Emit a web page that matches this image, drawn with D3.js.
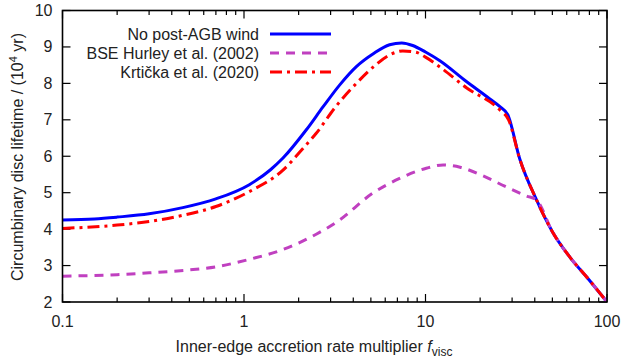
<!DOCTYPE html>
<html><head><meta charset="utf-8">
<script src="https://cdn.jsdelivr.net/npm/d3@7"></script>
<style>body{margin:0;background:#fff}svg{display:block}text{font-family:"Liberation Sans",Arial,sans-serif;fill:#222}</style>
</head><body><svg id="c" width="625" height="361"></svg>
<script>
const xTicks = [0.1, 1, 10, 100];
const xTickLabels = ["0.1", "1", "10", "100"];
const yTicks = [2, 3, 4, 5, 6, 7, 8, 9, 10];
const seriesNames = ["No post-AGB wind", "BSE Hurley et al. (2002)", "Krtička et al. (2020)"];

const blueX = [0.1, 0.15, 0.2, 0.3, 0.46, 0.7, 1.07, 1.4, 1.64, 2.2, 2.73, 3.37, 4.16, 5.18, 6.34, 7.4, 8.5, 10, 12, 16.8, 22, 25.7, 28.4, 33, 40.9, 50, 62.7, 78.1, 100];
const blueY = [4.25, 4.28, 4.33, 4.42, 4.59, 4.83, 5.22, 5.63, 5.95, 6.72, 7.36, 7.96, 8.46, 8.82, 9.06, 9.11, 9.04, 8.86, 8.62, 8.05, 7.62, 7.36, 7.14, 5.94, 4.80, 3.93, 3.22, 2.66, 2.0];

const purpleX = [0.1, 0.2, 0.3, 0.5, 0.71, 1.07, 1.64, 2.5, 3.3, 5.1, 7.2, 10.1, 12.5, 15.5, 20.8, 27.3, 36, 40.9, 50, 62.7, 78.1, 100];
const purpleY = [2.71, 2.75, 2.80, 2.88, 2.97, 3.17, 3.44, 3.86, 4.22, 4.98, 5.39, 5.67, 5.76, 5.70, 5.46, 5.18, 4.91, 4.80, 3.93, 3.22, 2.66, 2.0];

const redX = [0.1, 0.2, 0.3, 0.46, 0.7, 1.07, 1.64, 2.1, 2.5, 3.2, 4.16, 5.18, 6.34, 7.5, 8.8, 10, 12, 16.8, 25.7, 28.7, 33, 40.9, 50, 62.7, 78.1, 100];
const redY = [4.02, 4.11, 4.21, 4.38, 4.62, 5.03, 5.62, 6.20, 6.63, 7.36, 8.00, 8.46, 8.78, 8.89, 8.86, 8.72, 8.45, 7.88, 7.27, 7.00, 5.94, 4.80, 3.93, 3.22, 2.66, 2.0];

const L = 62.5, R = 607, T = 10.5, B = 302;
const svg = d3.select("#c");
const x = d3.scaleLog().domain([0.1, 100]).range([L, R]);
const y = d3.scaleLinear().domain([2, 10]).range([B, T]);

svg.append("clipPath").attr("id","clip").append("rect").attr("x",L).attr("y",T).attr("width",R-L).attr("height",B-T);

// minor x ticks
const minor = [];
for (let d = 0.1; d < 100; d *= 10) for (let k = 2; k <= 9; k++) minor.push(d * k);
const g = svg.append("g").attr("stroke","#000");
minor.forEach(v => {
  g.append("line").attr("x1",x(v)).attr("x2",x(v)).attr("y1",B).attr("y2",B-4.5).attr("stroke-width",1.2);
  g.append("line").attr("x1",x(v)).attr("x2",x(v)).attr("y1",T).attr("y2",T+4.5).attr("stroke-width",1.2);
});
xTicks.forEach(v => {
  g.append("line").attr("x1",x(v)).attr("x2",x(v)).attr("y1",B).attr("y2",B-8).attr("stroke-width",1.2);
  g.append("line").attr("x1",x(v)).attr("x2",x(v)).attr("y1",T).attr("y2",T+8).attr("stroke-width",1.2);
});
yTicks.forEach(v => {
  g.append("line").attr("x1",L).attr("x2",L+8).attr("y1",y(v)).attr("y2",y(v)).attr("stroke-width",1.2);
  g.append("line").attr("x1",R).attr("x2",R-8).attr("y1",y(v)).attr("y2",y(v)).attr("stroke-width",1.2);
});

xTicks.forEach((v,i) => {
  svg.append("text").attr("x",x(v)).attr("y",327).attr("text-anchor","middle").attr("font-size",16).text(xTickLabels[i]);
});
yTicks.forEach(v => {
  svg.append("text").attr("x",52.5).attr("y",y(v)+5.5).attr("text-anchor","end").attr("font-size",16).text(v);
});

const line = d3.line().x(d => x(d[0])).y(d => y(d[1])).curve(d3.curveMonotoneX);
const plot = svg.append("g").attr("clip-path","url(#clip)").attr("fill","none");
const styles = [
  {color:"#0000ff", dash:null},
  {color:"#c040c0", dash:"9,7"},
  {color:"#ff0000", dash:"12,5,3,5"}
];
const data = [d3.zip(blueX, blueY), d3.zip(purpleX, purpleY), d3.zip(redX, redY)];
[0,1,2].forEach(i => {
  plot.append("path").attr("d", line(data[i])).attr("stroke", styles[i].color).attr("stroke-width",3)
    .attr("stroke-dasharray", styles[i].dash);
});

// frame
svg.append("rect").attr("x",L).attr("y",T).attr("width",R-L).attr("height",B-T).attr("fill","none").attr("stroke","#000").attr("stroke-width",1.6);

// legend
const ly = [34, 53, 72];
seriesNames.forEach((n,i) => {
  svg.append("text").attr("x",259).attr("y",ly[i]+5.5).attr("text-anchor","end").attr("font-size",16).text(n);
  svg.append("line").attr("x1",270).attr("x2",331).attr("y1",ly[i]).attr("y2",ly[i])
    .attr("stroke",styles[i].color).attr("stroke-width",3).attr("stroke-dasharray",styles[i].dash);
});

// axis titles
const xt = svg.append("text").attr("x",314).attr("y",352).attr("text-anchor","middle").attr("font-size",16);
xt.append("tspan").text("Inner-edge accretion rate multiplier ");
xt.append("tspan").attr("font-style","italic").text("f");
xt.append("tspan").attr("font-size",12).attr("dy",4).text("visc");

const yt = svg.append("text").attr("transform","translate(23,157) rotate(-90)").attr("text-anchor","middle").attr("font-size",16);
yt.append("tspan").text("Circumbinary disc lifetime / (10");
yt.append("tspan").attr("font-size",11).attr("dy",-6).text("4");
yt.append("tspan").attr("dy",6).text(" yr)");
</script></body></html>
